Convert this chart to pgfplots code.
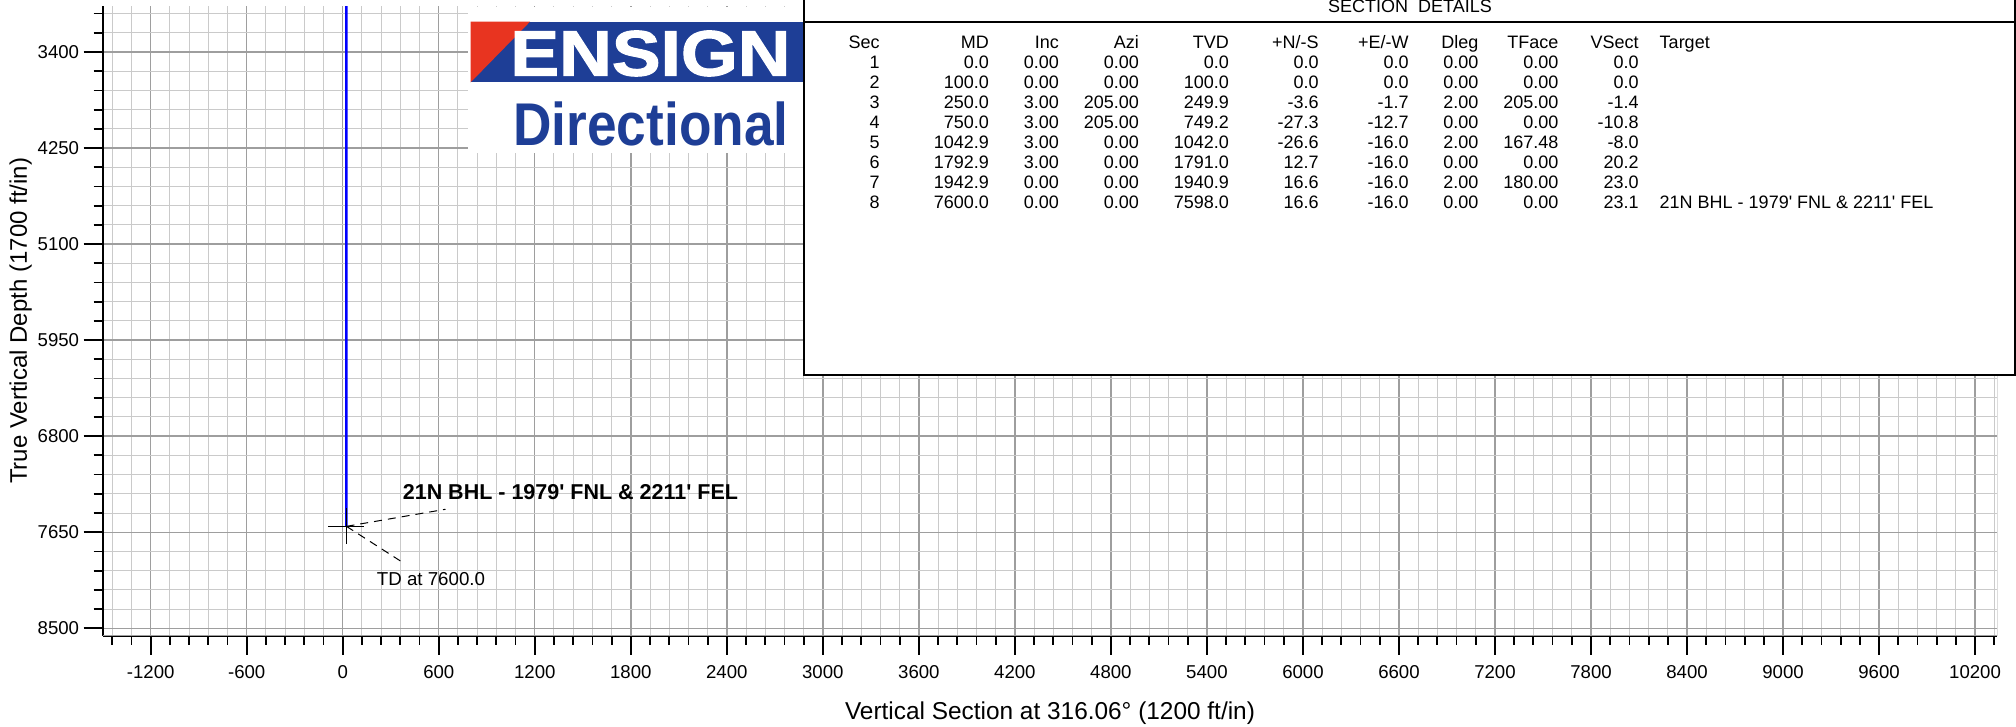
\documentclass[border=0pt]{standalone}
\usepackage{graphicx}
\usepackage{pgfplots}
\usepackage{pgfplotstable}
\pgfplotsset{compat=1.18}
\usepackage{fontspec}
\setmainfont{Liberation Sans}
\newfontfamily\logoheavy[FakeBold=1.6]{Liberation Sans Bold}

\definecolor{wellblue}{RGB}{0,0,255}
\definecolor{gridmajor}{RGB}{158,158,158}
\definecolor{gridminor}{RGB}{202,202,202}
\definecolor{ensignblue}{RGB}{30,62,150}
\definecolor{ensignred}{RGB}{232,52,32}

% Planned well sections: vertical section against true vertical depth
\pgfplotstableread{
Sec MD     TVD    VSect
1   0.0    0.0    0.0
2   100.0  100.0  0.0
3   250.0  249.9  -1.4
4   750.0  749.2  -10.8
5   1042.9 1042.0 -8.0
6   1792.9 1791.0 20.2
7   1942.9 1940.9 23.0
8   7600.0 7598.0 23.1
}\sections

\begin{document}
\begin{tikzpicture}
\useasboundingbox (0pt,0pt) rectangle (1008pt,-363.5pt);
\begin{axis}[
  at={(51.35pt,-317.85pt)}, anchor=south west,
  scale only axis, width=947.3pt, height=314.85pt,
  xmin=-1500, xmax=10339, ymin=2993, ymax=8566, y dir=reverse,
  axis x line*=bottom, axis y line*=left,
  axis line style={line width=1pt, black},
  xtick={-1200,-600,...,10200}, ytick={3400,4250,...,8500},
  minor xtick={-1440,-1320,...,10320}, minor ytick={3060,3230,...,8500},
  tick align=outside,
  major tick length=9.5pt, minor tick length=4.5pt,
  tick style={black, line width=0.9pt},
  grid=both,
  major grid style={gridmajor, line width=0.7pt},
  minor grid style={gridminor, line width=0.5pt},
  scaled ticks=false,
  /pgf/number format/.cd, fixed, 1000 sep={}, assume math mode=true,
  /pgfplots/.cd,
  ticklabel style={font=\fontsize{9.3}{11}\selectfont},
  xticklabel shift=2pt, yticklabel shift=-1.2pt,
  xlabel={Vertical Section at 316.06° (1200 ft/in)},
  ylabel={True Vertical Depth (1700 ft/in)},
  xlabel style={font=\fontsize{12.2}{14}\selectfont, at={(axis description cs:0.5,-0.1237)}, anchor=center},
  ylabel style={font=\fontsize{12}{14}\selectfont, at={(axis description cs:-0.0433,0.5)}, anchor=center},
  clip=true,
]
% light frame on the top and right
\draw[gridmajor, line width=0.6pt] (rel axis cs:0,0) -- (rel axis cs:1,0) -- (rel axis cs:1,1);
% target marker and well path
\addplot[only marks, mark=+, mark size=9pt, mark options={black, line width=0.5pt}]
  coordinates {(23.1,7598.0)};
\addplot[wellblue, line width=1.3pt] table[x=VSect, y=TVD] {\sections};
% leaders and captions
\draw[black, line width=0.5pt, dash pattern=on 4pt off 3pt] (axis cs:23.1,7598.0) -- (axis cs:642,7447);
\draw[black, line width=0.5pt, dash pattern=on 4pt off 3pt] (axis cs:23.1,7598.0) -- (axis cs:383,7925);
\node[anchor=west, inner sep=0, font=\bfseries\fontsize{10.75}{12}\selectfont]
  at (axis cs:373,7291) {21N BHL - 1979\textquotesingle{} FNL \& 2211\textquotesingle{} FEL};
\node[anchor=west, inner sep=0, font=\fontsize{9.35}{11}\selectfont]
  at (axis cs:211,8064) {TD at 7600.0};
\end{axis}

\begin{scope}[x=0.5pt, y=-0.5pt]
  % company logo
  \fill[white] (468,7) rectangle (803,153);
  \fill[ensignblue] (470.7,21.7) rectangle (803,82.3);
  \fill[ensignred] (470.7,21.7) -- (530,21.7) -- (470.7,82.3) -- cycle;
  \node[anchor=south west, inner sep=0, text=white] at (510,76.7)
    {\resizebox{140pt}{22.5pt}{\logoheavy ENSIGN}};
  \node[anchor=south west, inner sep=0, text=ensignblue] at (513,146.7)
    {\resizebox{137.5pt}{21.85pt}{\bfseries Directional}};

  % section details box
  \draw[line width=1pt, fill=white] (803.6,-20) rectangle (2015,374.5);
  \draw[line width=1pt] (803.6,21.7) -- (2015,21.7);
  \begin{scope}[every node/.style={inner sep=0, font=\fontsize{9}{10}\selectfont}]
    \node[anchor=base] at (1410,12.3) {SECTION~~DETAILS};
    \node[anchor=base east] at (880,48.3) {Sec};
    \node[anchor=base east] at (989.3,48.3) {MD};
    \node[anchor=base east] at (1059.3,48.3) {Inc};
    \node[anchor=base east] at (1139.3,48.3) {Azi};
    \node[anchor=base east] at (1229.3,48.3) {TVD};
    \node[anchor=base east] at (1319,48.3) {+N/-S};
    \node[anchor=base east] at (1409,48.3) {+E/-W};
    \node[anchor=base east] at (1478.7,48.3) {Dleg};
    \node[anchor=base east] at (1558.7,48.3) {TFace};
    \node[anchor=base east] at (1639,48.3) {VSect};
    \node[anchor=base west] at (1659.3,48.3) {Target};
    \foreach \k/\va/\vb/\vc/\vd/\ve/\vf/\vg/\vh/\vi in {
      1/0.0/0.00/0.00/0.0/0.0/0.0/0.00/0.00/0.0,
      2/100.0/0.00/0.00/100.0/0.0/0.0/0.00/0.00/0.0,
      3/250.0/3.00/205.00/249.9/-3.6/-1.7/2.00/205.00/-1.4,
      4/750.0/3.00/205.00/749.2/-27.3/-12.7/0.00/0.00/-10.8,
      5/1042.9/3.00/0.00/1042.0/-26.6/-16.0/2.00/167.48/-8.0,
      6/1792.9/3.00/0.00/1791.0/12.7/-16.0/0.00/0.00/20.2,
      7/1942.9/0.00/0.00/1940.9/16.6/-16.0/2.00/180.00/23.0,
      8/7600.0/0.00/0.00/7598.0/16.6/-16.0/0.00/0.00/23.1}{
      \pgfmathsetmacro{\yy}{48.3+20*\k}
      \node[anchor=base east] at (880,\yy) {\k};
      \node[anchor=base east] at (989.3,\yy) {\va};
      \node[anchor=base east] at (1059.3,\yy) {\vb};
      \node[anchor=base east] at (1139.3,\yy) {\vc};
      \node[anchor=base east] at (1229.3,\yy) {\vd};
      \node[anchor=base east] at (1319,\yy) {\ve};
      \node[anchor=base east] at (1409,\yy) {\vf};
      \node[anchor=base east] at (1478.7,\yy) {\vg};
      \node[anchor=base east] at (1558.7,\yy) {\vh};
      \node[anchor=base east] at (1639,\yy) {\vi};
    }
    \node[anchor=base west] at (1659.3,208.3) {21N BHL - 1979\textquotesingle{} FNL \& 2211\textquotesingle{} FEL};
  \end{scope}
\end{scope}
\end{tikzpicture}
\end{document}
